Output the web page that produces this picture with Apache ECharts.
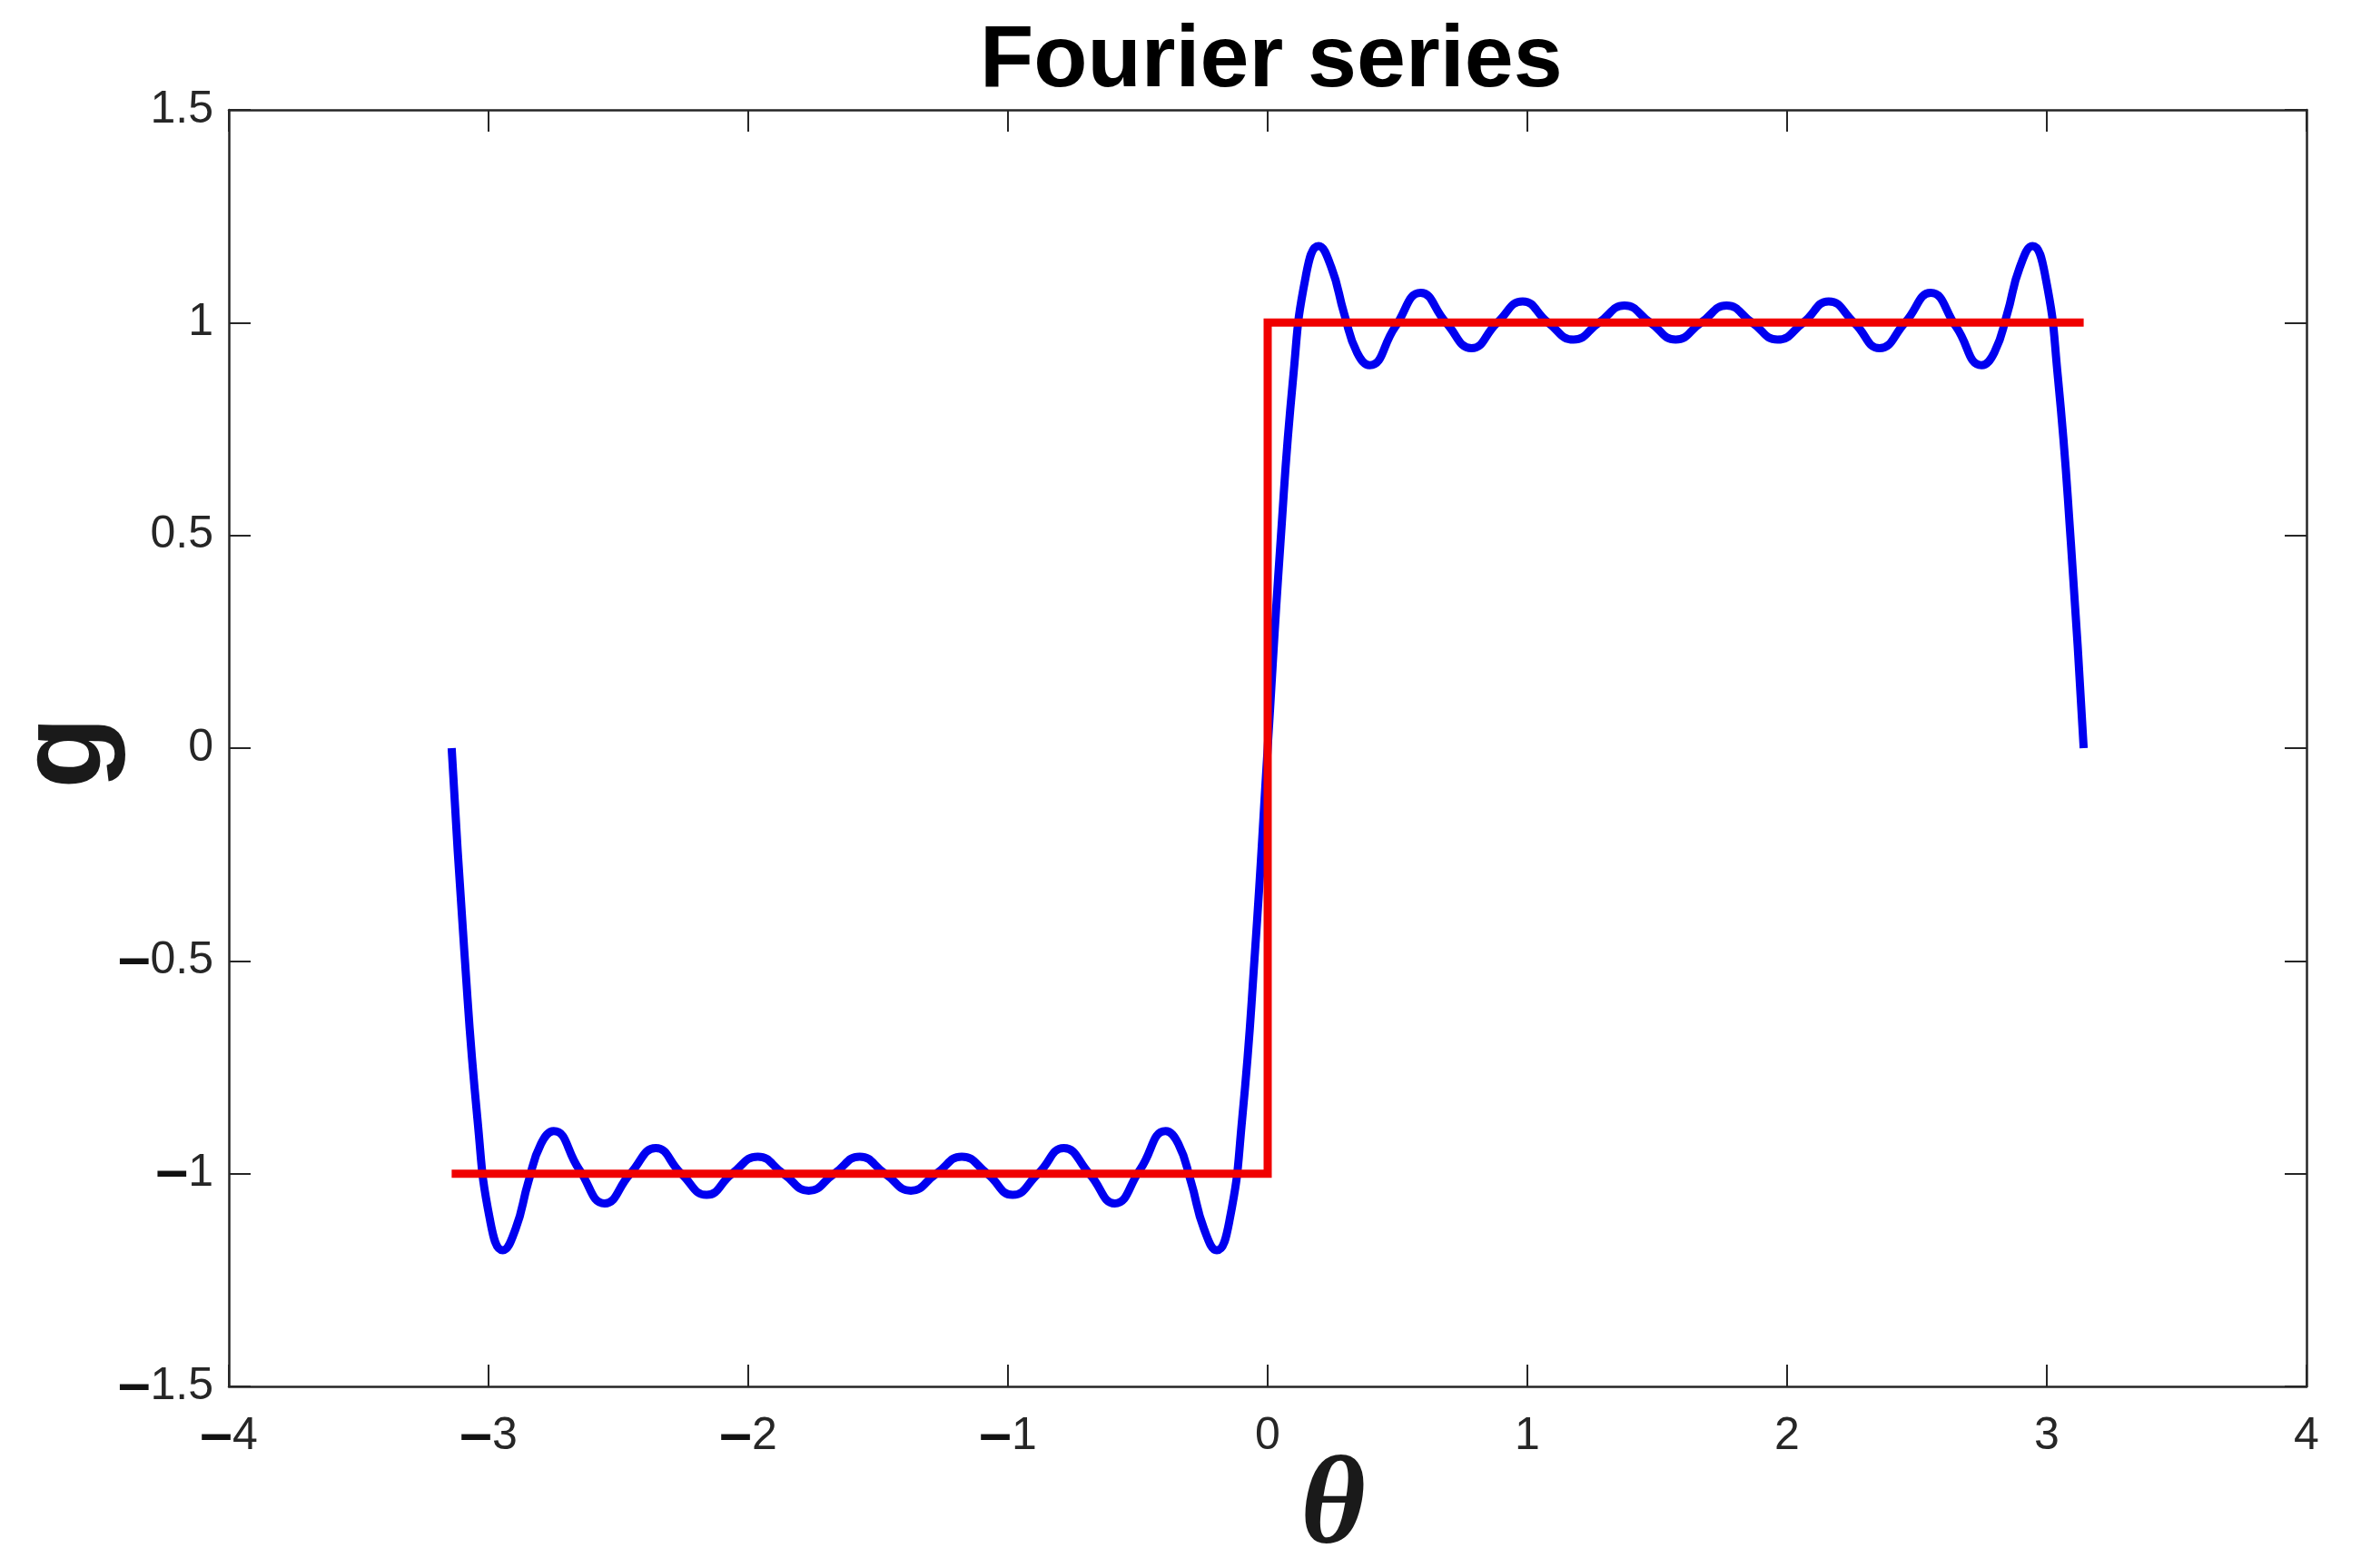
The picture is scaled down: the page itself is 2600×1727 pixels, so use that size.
<!DOCTYPE html>
<html>
<head>
<meta charset="utf-8">
<script src="https://cdn.jsdelivr.net/npm/echarts@6/dist/echarts.min.js"></script>
<style>
html,body{margin:0;padding:0;background:#fff;}
#chart{width:2600px;height:1727px;}
</style>
</head>
<body>
<div id="chart"></div>
<script>
// Fourier partial sum (blue)
const theta = [
  -3.142, -3.093, -3.043, -2.994, -2.945, -2.896, -2.847, -2.798, -2.749, -2.651,
  -2.553, -2.454, -2.356, -2.258, -2.160, -2.062, -1.963, -1.865, -1.767, -1.669,
  -1.571, -1.473, -1.374, -1.276, -1.178, -1.080, -0.982, -0.884, -0.785, -0.687,
  -0.589, -0.491, -0.393, -0.344, -0.295, -0.245, -0.196, -0.147, -0.098, -0.049,
   0.000,
   0.049,  0.098,  0.147,  0.196,  0.245,  0.295,  0.344,  0.393,  0.491,  0.589,
   0.687,  0.785,  0.884,  0.982,  1.080,  1.178,  1.276,  1.374,  1.473,  1.571,
   1.669,  1.767,  1.865,  1.963,  2.062,  2.160,  2.258,  2.356,  2.454,  2.553,
   2.651,  2.749,  2.798,  2.847,  2.896,  2.945,  2.994,  3.043,  3.093,  3.142
];
const gSeries = [
   0.00, -0.48, -0.87, -1.11, -1.18, -1.13, -1.02, -0.93, -0.90, -0.99,
  -1.07, -1.00, -0.94, -1.00, -1.05, -1.00, -0.96, -1.00, -1.04, -1.00,
  -0.96, -1.00, -1.04, -1.00, -0.96, -1.00, -1.05, -1.00, -0.94, -1.00,
  -1.07, -0.99, -0.90, -0.93, -1.02, -1.13, -1.18, -1.11, -0.87, -0.48,
   0.00,
   0.48,  0.87,  1.11,  1.18,  1.13,  1.02,  0.93,  0.90,  0.99,  1.07,
   1.00,  0.94,  1.00,  1.05,  1.00,  0.96,  1.00,  1.04,  1.00,  0.96,
   1.00,  1.04,  1.00,  0.96,  1.00,  1.05,  1.00,  0.94,  1.00,  1.07,
   0.99,  0.90,  0.93,  1.02,  1.13,  1.18,  1.11,  0.87,  0.48,  0.00
];
// Square wave (red)
const stepTheta = [-3.142, 0, 0, 3.142];
const stepG = [-1, -1, 1, 1];

// Axis ticks
const xTicks = [-4, -3, -2, -1, 0, 1, 2, 3, 4];
const yTicks = [-1.5, -1, -0.5, 0, 0.5, 1, 1.5];

const titleText = 'Fourier series';
const xName = 'θ';
const yName = 'g';

const axisColor = '#262626';
const sans = 'Liberation Sans, Arial, sans-serif';
function fmt(v) {
  return v < 0 ? '{m|\u2013}{n|' + String(Math.abs(v)) + '}' : '{n|' + String(v) + '}';
}
const labelRich = {
  m: { fontWeight: 'bold', fontSize: 64, fontFamily: sans, color: '#111', lineHeight: 50 },
  n: { fontSize: 50, fontFamily: sans, color: axisColor, lineHeight: 50 }
};

const chart = echarts.init(document.getElementById('chart'), null, { renderer: 'canvas' });
const baseAxis = {
  axisLine: { show: true, onZero: false, lineStyle: { color: axisColor, width: 2.5 } },
  axisTick: { show: true, inside: true, length: 24, lineStyle: { color: axisColor, width: 2 } },
  splitLine: { show: false },
};
chart.setOption({
  backgroundColor: '#ffffff',
  animation: false,
  title: {
    text: titleText,
    left: 1074,
    top: 15,
    textStyle: { fontFamily: sans, fontWeight: 'bold', fontSize: 97, color: '#000' }
  },
  grid: { left: 252, right: 60, top: 121, bottom: 200, containLabel: false, outerBoundsMode: 'none' },
  xAxis: [
    Object.assign({}, baseAxis, {
      type: 'value', min: xTicks[0], max: xTicks[xTicks.length - 1], interval: 1, position: 'bottom',
      axisLabel: { margin: 30, formatter: fmt, rich: labelRich, fontSize: 50, lineHeight: 50, color: axisColor, fontFamily: sans },
      name: xName, nameLocation: 'middle', nameGap: 67, nameMoveOverlap: false,
      nameTextStyle: { fontFamily: 'Liberation Serif, Times New Roman, serif', fontStyle: 'italic', fontWeight: 'bold', fontSize: 138, color: '#1a1a1a', padding: [0, 0, 0, 144] }
    }),
    Object.assign({}, baseAxis, {
      type: 'value', min: xTicks[0], max: xTicks[xTicks.length - 1], interval: 1, position: 'top',
      axisLabel: { show: false }
    })
  ],
  yAxis: [
    Object.assign({}, baseAxis, {
      type: 'value', min: yTicks[0], max: yTicks[yTicks.length - 1], interval: 0.5, position: 'left',
      axisLabel: { margin: 17, formatter: fmt, rich: labelRich, fontSize: 50, lineHeight: 50, color: axisColor, fontFamily: sans },
      name: yName, nameLocation: 'middle', nameGap: 113, nameRotate: 90, nameMoveOverlap: false,
      nameTextStyle: { fontFamily: sans, fontWeight: 'bold', fontSize: 130, color: '#1a1a1a', padding: [0, 10, 0, 0] }
    }),
    Object.assign({}, baseAxis, {
      type: 'value', min: yTicks[0], max: yTicks[yTicks.length - 1], interval: 0.5, position: 'right',
      axisLabel: { show: false }
    })
  ],
  series: [
    {
      type: 'line', name: 'Fourier sum', xAxisIndex: 0, yAxisIndex: 0,
      data: theta.map((t, i) => [t, gSeries[i]]),
      smooth: true, showSymbol: false, symbol: 'none',
      lineStyle: { color: '#0000f0', width: 9 }, z: 2
    },
    {
      type: 'line', name: 'Square wave', xAxisIndex: 0, yAxisIndex: 0,
      data: stepTheta.map((t, i) => [t, stepG[i]]),
      showSymbol: false, symbol: 'none',
      lineStyle: { color: '#f00000', width: 9, join: 'miter' }, z: 3
    }
  ]
});
</script>
</body>
</html>
